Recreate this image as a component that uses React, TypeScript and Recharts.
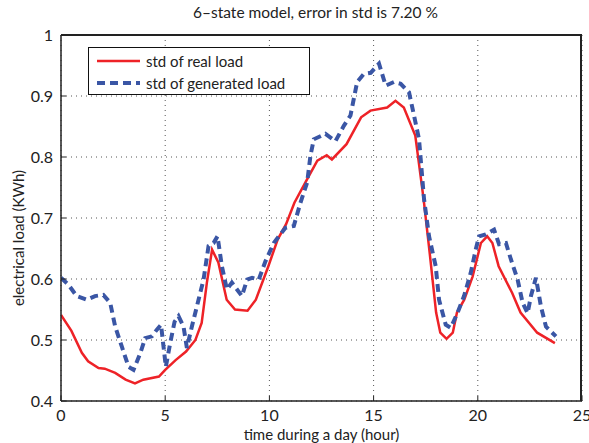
import { CartesianGrid, Legend, Line, LineChart, XAxis, YAxis } from "recharts";

const realHours = [
  0, 0.5, 1.0, 1.3, 1.8, 2.1, 2.6, 3.1, 3.55, 3.95, 4.7, 5.0, 5.5, 6.0, 6.45, 6.75, 7.0, 7.25, 7.55, 7.95,
  8.35, 8.95, 9.35, 9.95, 10.4, 10.8, 11.2, 11.8, 12.3, 12.75, 13.0, 13.7, 14.4, 14.85, 15.65, 16.05, 16.45,
  17.0, 17.4, 17.7, 18.0, 18.2, 18.5, 18.8, 19.0, 19.35, 19.75, 20.15, 20.45, 20.7, 21.0, 21.65, 22.05, 22.85,
  23.7,
];
const realLoad = [
  0.541, 0.515, 0.479, 0.465, 0.454, 0.453, 0.446, 0.435, 0.429, 0.435, 0.44, 0.451, 0.467, 0.481, 0.5, 0.528,
  0.594, 0.648, 0.627, 0.566, 0.55, 0.548, 0.566, 0.621, 0.665, 0.69, 0.725, 0.763, 0.794, 0.803, 0.796, 0.821,
  0.865, 0.876, 0.881, 0.892, 0.881, 0.835, 0.731, 0.64, 0.545, 0.512, 0.502, 0.512, 0.545, 0.566, 0.604,
  0.659, 0.67, 0.659, 0.621, 0.577, 0.545, 0.512, 0.495,
];

const genHours = [
  0, 0.35, 0.75, 1.23, 1.63, 2.03, 2.36, 2.6, 2.92, 3.24, 3.48, 3.8, 4.04, 4.36, 4.6, 4.8, 4.92, 5.03, 5.24,
  5.45, 5.64, 5.88, 6.04, 6.28, 6.6, 6.84, 7.08, 7.32, 7.51, 7.72, 7.96, 8.2, 8.68, 8.93, 9.17, 9.49, 9.81,
  10.21, 10.77, 11.17, 11.49, 11.81, 11.97, 12.13, 12.69, 13.17, 13.57, 13.89, 14.21, 14.53, 14.86, 15.26,
  15.58, 15.98, 16.3, 16.7, 16.94, 17.18, 17.42, 17.66, 17.98, 18.14, 18.46, 18.7, 19.02, 19.34, 19.66, 19.9,
  20.06, 20.38, 20.78, 21.02, 21.35, 21.59, 21.91, 22.15, 22.39, 22.55, 22.79, 23.03, 23.27, 23.75,
];
const genLoad = [
  0.602, 0.591, 0.572, 0.566, 0.572, 0.574, 0.561, 0.522, 0.489, 0.456, 0.451, 0.478, 0.503, 0.506, 0.517,
  0.525, 0.489, 0.456, 0.495, 0.53, 0.539, 0.522, 0.487, 0.522, 0.566, 0.599, 0.654, 0.659, 0.67, 0.621,
  0.583, 0.594, 0.572, 0.599, 0.602, 0.599, 0.629, 0.659, 0.684, 0.687, 0.725, 0.758, 0.802, 0.829, 0.838,
  0.826, 0.851, 0.868, 0.923, 0.936, 0.938, 0.953, 0.917, 0.923, 0.92, 0.906, 0.868, 0.829, 0.731, 0.67,
  0.621, 0.566, 0.525, 0.52, 0.544, 0.572, 0.61, 0.648, 0.67, 0.673, 0.681, 0.657, 0.659, 0.632, 0.599,
  0.561, 0.544, 0.572, 0.602, 0.555, 0.522, 0.506,
];

const xTicks = [0, 5, 10, 15, 20, 25];
const yTicks = [0.4, 0.5, 0.6, 0.7, 0.8, 0.9, 1];

const RED = "#ee2227";
const BLUE = "#3a56a5";
const FONT = "Lato, 'Open Sans', sans-serif";

const realData = realHours.map((h, i) => ({ hour: h, value: realLoad[i] }));
const genData = genHours.map((h, i) => ({ hour: h, value: genLoad[i] }));

function LegendBox() {
  return (
    <div
      style={{
        border: "1.5px solid #111",
        background: "#fff",
        width: 222,
        height: 48,
        boxSizing: "border-box",
        fontFamily: FONT,
        fontSize: 15,
        color: "#222",
        padding: "2px 0 0 8px",
      }}
    >
      <div style={{ display: "flex", alignItems: "center", height: 22 }}>
        <svg width={44} height={6}>
          <line x1={0} y1={3} x2={43} y2={3} stroke={RED} strokeWidth={2.5} />
        </svg>
        <span style={{ marginLeft: 5 }}>std of real load</span>
      </div>
      <div style={{ display: "flex", alignItems: "center", height: 22 }}>
        <svg width={44} height={6}>
          <line x1={0} y1={3} x2={43} y2={3} stroke={BLUE} strokeWidth={4} strokeDasharray="8 5" />
        </svg>
        <span style={{ marginLeft: 5 }}>std of generated load</span>
      </div>
    </div>
  );
}

export default function App() {
  return (
    <div style={{ position: "absolute", left: 0, top: 0, width: 589, height: 443, background: "#fff" }}>
      <div
        style={{
          position: "absolute",
          top: 3,
          left: 55,
          width: 521,
          textAlign: "center",
          fontFamily: FONT,
          fontSize: 15.5,
          color: "#222",
        }}
      >
        6–state model, error in std is 7.20 %
      </div>
      <div
        style={{
          position: "absolute",
          left: 18,
          top: 238,
          transform: "translate(-50%, -50%) rotate(-90deg)",
          whiteSpace: "nowrap",
          fontFamily: FONT,
          fontSize: 15,
          color: "#222",
        }}
      >
        electrical load (KWh)
      </div>
      <div
        style={{
          position: "absolute",
          top: 425,
          left: 61,
          width: 521,
          textAlign: "center",
          fontFamily: FONT,
          fontSize: 15,
          color: "#222",
        }}
      >
        time during a day (hour)
      </div>
      <LineChart width={589} height={443} margin={{ top: 35, right: 7, bottom: 0, left: 0 }}>
        <CartesianGrid strokeDasharray="1 4" stroke="#555" />
        <XAxis
          dataKey="hour"
          type="number"
          domain={[0, 25]}
          ticks={xTicks}
          interval={0}
          height={42}
          tickSize={-5}
          tickMargin={14}
          tickLine={{ stroke: "#222" }}
          axisLine={{ stroke: "#222", strokeWidth: 1.5 }}
          tick={{ fontSize: 16, fill: "#222", fontFamily: FONT }}
          allowDataOverflow
        />
        <YAxis
          domain={[0.4, 1]}
          ticks={yTicks}
          interval={0}
          width={61}
          tickSize={-5}
          tickMargin={13}
          tickLine={{ stroke: "#222" }}
          axisLine={{ stroke: "#222", strokeWidth: 1.5 }}
          tick={{ fontSize: 16, fill: "#222", fontFamily: FONT }}
          tickFormatter={(v: number) => (v === 1 ? "1" : v.toFixed(1))}
          allowDataOverflow
        />
        <Legend
          layout="vertical"
          align="center"
          verticalAlign="middle"
          content={() => <LegendBox />}
          wrapperStyle={{ left: 88, top: 47, width: 222, height: 48 }}
        />
        <Line
          data={realData}
          dataKey="value"
          type="linear"
          stroke={RED}
          strokeWidth={2.5}
          dot={false}
          isAnimationActive={false}
        />
        <Line
          data={genData}
          dataKey="value"
          type="linear"
          stroke={BLUE}
          strokeWidth={4}
          strokeDasharray="8 5"
          dot={false}
          isAnimationActive={false}
        />
      </LineChart>
      {/* plot frame: top and right edges */}
      <div
        style={{
          position: "absolute",
          left: 61,
          top: 34,
          width: 521,
          height: 367,
          boxSizing: "border-box",
          borderTop: "2px solid #222",
          borderRight: "2px solid #222",
          pointerEvents: "none",
        }}
      />
    </div>
  );
}
